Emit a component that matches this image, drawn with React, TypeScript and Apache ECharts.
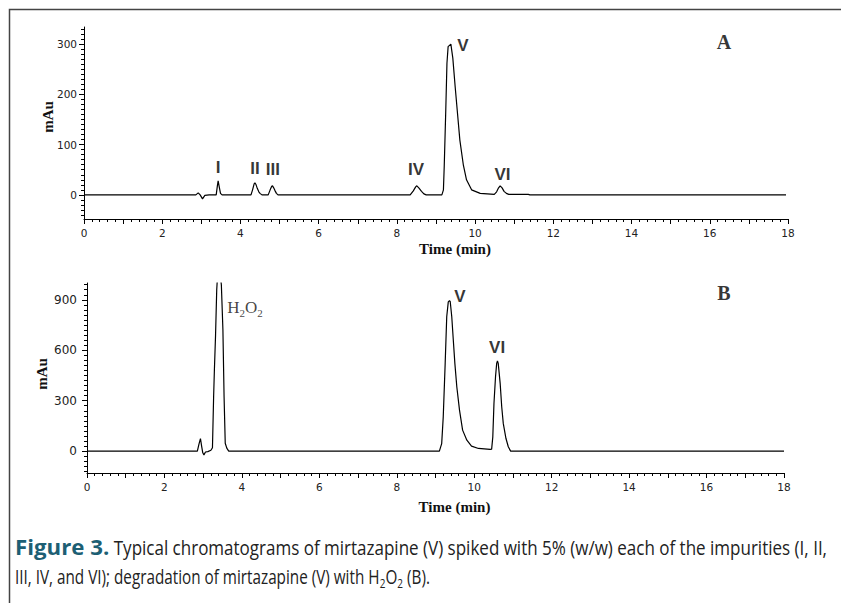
import React, { useEffect, useRef } from "react";
import * as echarts from "echarts";

// ---- Data (time in min, signal in mAu) ----
const chromA: number[][] = [
  [0, 0], [2.86, 0], [2.92, 4], [2.97, 0], [3.03, -8], [3.09, -1], [3.2, 0],
  [3.38, 0], [3.41, 18], [3.43, 28], [3.46, 15], [3.49, 3], [3.53, 0],
  [4.27, 0], [4.31, 10], [4.35, 22], [4.37, 24], [4.4, 20], [4.43, 13], [4.47, 6], [4.5, 3], [4.55, 0],
  [4.71, 0], [4.76, 10], [4.8, 17], [4.82, 18], [4.85, 14], [4.88, 9], [4.92, 3], [4.96, 0],
  [8.34, 0], [8.42, 8], [8.48, 16], [8.51, 18], [8.56, 14], [8.63, 7], [8.69, 2], [8.75, 0], [9.1, 0],
  [9.15, 0], [9.19, 10], [9.21, 56], [9.25, 169], [9.28, 262], [9.31, 295], [9.38, 300], [9.43, 272],
  [9.49, 215], [9.55, 162], [9.61, 109], [9.7, 59], [9.78, 30], [9.91, 10], [10.13, 3], [10.49, 1],
  [10.55, 6], [10.6, 14], [10.64, 18], [10.69, 14], [10.74, 7], [10.8, 3], [10.86, 1], [11.36, 1],
  [11.4, 0], [17.95, 0],
];

const chromB: number[][] = [
  [0, 0], [2.85, 0], [2.89, 40], [2.93, 75], [2.96, 30], [2.99, -10], [3.02, -22], [3.06, -5],
  [3.12, -3], [3.2, 5], [3.24, 20], [3.27, 323], [3.29, 482], [3.32, 690], [3.35, 958], [3.38, 1080],
  [3.43, 1080], [3.47, 988], [3.51, 720], [3.54, 323], [3.57, 47], [3.61, 18], [3.66, 0],
  [9.1, 0], [9.16, 45], [9.2, 204], [9.25, 522], [9.29, 799], [9.33, 888], [9.36, 894], [9.38, 890],
  [9.42, 799], [9.46, 660], [9.5, 522], [9.55, 383], [9.62, 244], [9.7, 125], [9.81, 65], [9.93, 30],
  [10.11, 16], [10.41, 10], [10.45, 12],
  [10.48, 85], [10.51, 284], [10.55, 442], [10.58, 522], [10.6, 537], [10.62, 522], [10.67, 403],
  [10.71, 264], [10.75, 165], [10.82, 75], [10.88, 26], [10.94, 0], [18, 0],
];

const peakNamesA = ["I", "II", "III", "IV", "V", "VI"];
const peakLabelPosA = [[3.43, 54], [4.37, 53], [4.83, 51], [8.49, 51], [9.69, 297], [10.7, 40]];
const peakNamesB = ["V", "VI"];
const peakLabelPosB = [[9.63, 922], [10.59, 616]];
const h2o2LabelPos = [4.08, 857];
const panelLabelPosA = [16.36, 304];
const panelLabelPosB = [16.45, 940];

const xRange = [0, 18];
const yRangeA = [-48, 334];
const yRangeB = [-130, 1000];
const yTicksA = [0, 100, 200, 300];
const yTicksB = [0, 300, 600, 900];
const yMinorStepA = 10;
const yMinorStepB = 30;

const captionLine1Bold = "Figure 3.";
const captionLine1 = " Typical chromatograms of mirtazapine (V) spiked with 5% (w/w) each of the impurities (I, II,";
const captionLine2a = "III, IV, and VI); degradation of mirtazapine (V) with H";
const captionLine2b = " (B).";

function minorTicks(range: number[], step: number, majors: number[]) {
  const out: number[] = [];
  const start = Math.ceil(range[0] / step) * step;
  for (let v = start; v <= range[1] + 1e-9; v += step) {
    const r = Math.round(v);
    if (majors.indexOf(r) < 0) out.push(r);
  }
  return out;
}

const CAPTION_FONT = '"Open Sans", "Noto Sans", sans-serif';

function measure(text: string, font: string) {
  const ctx = document.createElement("canvas").getContext("2d")!;
  ctx.font = font;
  return ctx.measureText(text).width;
}

function xAxisCfg(gridIndex: number, nameGap: number) {
  return {
    gridIndex,
    type: "value",
    min: xRange[0],
    max: xRange[1],
    interval: 1,
    position: "bottom",
    axisLine: { show: true, onZero: false, lineStyle: { color: "#000", width: 1 } },
    axisTick: { show: true, length: 5, lineStyle: { color: "#000", width: 1 } },
    minorTick: { show: true, splitNumber: 5, length: 3, lineStyle: { color: "#000", width: 1 } },
    axisLabel: {
      formatter: (v: number) => (Math.round(v) % 2 === 0 ? String(v) : ""),
      fontSize: 10.5,
      fontFamily: "DejaVu Sans",
      color: "#222",
      margin: 8,
    },
    splitLine: { show: false },
    name: "Time (min)",
    nameLocation: "middle",
    nameGap,
    nameTextStyle: {
      fontFamily: "Liberation Serif",
      fontWeight: "bold",
      fontSize: 15,
      color: "#111",
      padding: [0, 0, 0, 38],
    },
  };
}

function yAxisMain(gridIndex: number, range: number[], ticks: number[], fontSize: number, margin: number, nameGap: number, namePad: number) {
  return {
    gridIndex,
    type: "value",
    position: "left",
    min: range[0],
    max: range[1],
    axisLine: { show: true, onZero: false, lineStyle: { color: "#000", width: 1 } },
    axisTick: { show: true, customValues: ticks, length: 5, lineStyle: { color: "#000", width: 1 } },
    axisLabel: { customValues: ticks, fontSize, fontFamily: "DejaVu Sans", color: "#222", margin },
    splitLine: { show: false },
    name: "mAu",
    nameLocation: "middle",
    nameRotate: 90,
    nameGap,
    nameMoveOverlap: false,
    nameTextStyle: {
      fontFamily: "Liberation Serif",
      fontWeight: "bold",
      fontSize: 15,
      color: "#111",
      padding: [0, 0, 0, namePad],
    },
  };
}

function yAxisMinor(gridIndex: number, range: number[], ticks: number[]) {
  return {
    gridIndex,
    type: "value",
    position: "left",
    min: range[0],
    max: range[1],
    axisLine: { show: false },
    axisTick: { show: true, customValues: ticks, length: 3, lineStyle: { color: "#000", width: 1 } },
    axisLabel: { show: false },
    splitLine: { show: false },
  };
}

const peakLabelStyle = {
  show: true,
  position: "inside",
  formatter: "{b}",
  fontFamily: "Liberation Sans",
  fontWeight: "bold",
  fontSize: 17,
  color: "#000",
  textBorderWidth: 0,
  textBorderColor: "transparent",
};

const panelLabelStyle = {
  show: true,
  position: "inside",
  formatter: "{b}",
  fontFamily: "Liberation Serif",
  fontWeight: "bold",
  fontSize: 20,
  color: "#000",
  textBorderWidth: 0,
  textBorderColor: "transparent",
};

export default function App() {
  const ref = useRef<HTMLDivElement>(null);

  useEffect(() => {
    if (!ref.current) return;
    const chart = echarts.init(ref.current, undefined, { renderer: "svg" });

    const capSize = 20;
    const subSize = 13;
    const boldSize = 21;
    const capLeft = 15;
    const capRight = 828;
    const line2Right = 430;
    const normFont = `${capSize}px ${CAPTION_FONT}`;
    const subFont = `${subSize}px ${CAPTION_FONT}`;
    const wBold = measure(captionLine1Bold, `bold ${boldSize}px ${CAPTION_FONT}`);
    const wNorm = measure(captionLine1, normFont);
    const wLine2 =
      measure(captionLine2a, normFont) + measure("O", normFont) + measure(captionLine2b, normFont) +
      2 * measure("2", subFont);
    const boldScale = Math.min(1.06, 104 / wBold);
    const normLeft = capLeft + wBold * boldScale;
    const normScale = (capRight - normLeft) / wNorm;
    const line2Scale = (line2Right - capLeft) / wLine2;

    const option: any = {
      animation: false,
      backgroundColor: "#fff",
      grid: [
        { left: 84, top: 27, width: 704, height: 192 },
        { left: 87, top: 283, width: 697, height: 190 },
      ],
      xAxis: [xAxisCfg(0, 22), xAxisCfg(1, 26)],
      yAxis: [
        yAxisMain(0, yRangeA, yTicksA, 10.5, 7, 29, 12),
        yAxisMinor(0, yRangeA, minorTicks(yRangeA, yMinorStepA, yTicksA)),
        yAxisMain(1, yRangeB, yTicksB, 12, 10, 38, 8),
        yAxisMinor(1, yRangeB, minorTicks(yRangeB, yMinorStepB, yTicksB)),
      ],
      series: [
        {
          type: "line",
          xAxisIndex: 0,
          yAxisIndex: 0,
          data: chromA,
          showSymbol: false,
          symbol: "none",
          lineStyle: { color: "#000", width: 1.2 },
          silent: true,
        },
        {
          type: "line",
          xAxisIndex: 1,
          yAxisIndex: 2,
          data: chromB,
          showSymbol: false,
          symbol: "none",
          clip: true,
          lineStyle: { color: "#000", width: 1.2 },
          silent: true,
        },
        {
          type: "scatter",
          xAxisIndex: 0,
          yAxisIndex: 0,
          symbolSize: 0,
          silent: true,
          label: peakLabelStyle,
          data: peakNamesA.map((n, i) => ({ name: n, value: peakLabelPosA[i] })),
        },
        {
          type: "scatter",
          xAxisIndex: 1,
          yAxisIndex: 2,
          symbolSize: 0,
          silent: true,
          label: peakLabelStyle,
          data: peakNamesB.map((n, i) => ({ name: n, value: peakLabelPosB[i] })),
        },
        {
          type: "scatter",
          xAxisIndex: 0,
          yAxisIndex: 0,
          symbolSize: 0,
          silent: true,
          label: panelLabelStyle,
          data: [{ name: "A", value: panelLabelPosA }],
        },
        {
          type: "scatter",
          xAxisIndex: 1,
          yAxisIndex: 2,
          symbolSize: 0,
          silent: true,
          label: panelLabelStyle,
          data: [{ name: "B", value: panelLabelPosB }],
        },
        {
          type: "scatter",
          xAxisIndex: 1,
          yAxisIndex: 2,
          symbolSize: 0,
          silent: true,
          label: {
            show: true,
            position: "inside",
            formatter: "{a|H}{s|2}{a|O}{s|2}",
            textBorderWidth: 0,
            rich: {
              a: { fontFamily: "Liberation Serif", fontSize: 17, color: "#111", lineHeight: 22, verticalAlign: "middle" },
              s: { fontFamily: "Liberation Serif", fontSize: 11, color: "#111", lineHeight: 22, verticalAlign: "bottom" },
            },
          },
          data: [{ name: "H2O2", value: h2o2LabelPos }],
        },
      ],
      graphic: [
        {
          type: "rect",
          silent: true,
          shape: { x: 9.5, y: 9.5, width: 900, height: 700 },
          style: { fill: "none", stroke: "#444", lineWidth: 1.5 },
        },
        {
          type: "group",
          x: capLeft,
          y: 0,
          scaleX: boldScale,
          silent: true,
          children: [
            {
              type: "text",
              x: 0,
              y: 547,
              style: {
                text: captionLine1Bold,
                verticalAlign: "middle",
                fontFamily: CAPTION_FONT,
                fontSize: boldSize,
                fontWeight: "bold",
                fill: "#1d5f74",
              },
            },
          ],
        },
        {
          type: "group",
          x: normLeft,
          y: 0,
          scaleX: normScale,
          silent: true,
          children: [
            {
              type: "text",
              x: 0,
              y: 547,
              style: {
                text: captionLine1,
                verticalAlign: "middle",
                fontFamily: CAPTION_FONT,
                fontSize: capSize,
                fill: "#222",
              },
            },
          ],
        },
        {
          type: "group",
          x: capLeft,
          y: 0,
          scaleX: line2Scale,
          silent: true,
          children: [
            {
              type: "text",
              x: 0,
              y: 576,
              style: {
                text: `{n|${captionLine2a}}{s|2}{n|O}{s|2}{n|${captionLine2b}}`,
                verticalAlign: "middle",
                rich: {
                  n: { fontFamily: CAPTION_FONT, fontSize: capSize, fill: "#222", lineHeight: 26, verticalAlign: "middle" },
                  s: { fontFamily: CAPTION_FONT, fontSize: subSize, fill: "#222", lineHeight: 26, verticalAlign: "bottom" },
                },
              },
            },
          ],
        },
      ],
    };

    chart.setOption(option);
    return () => chart.dispose();
  }, []);

  return (
    <div
      ref={ref}
      style={{ position: "fixed", left: 0, top: 0, width: 841, height: 603, background: "#fff" }}
    />
  );
}
